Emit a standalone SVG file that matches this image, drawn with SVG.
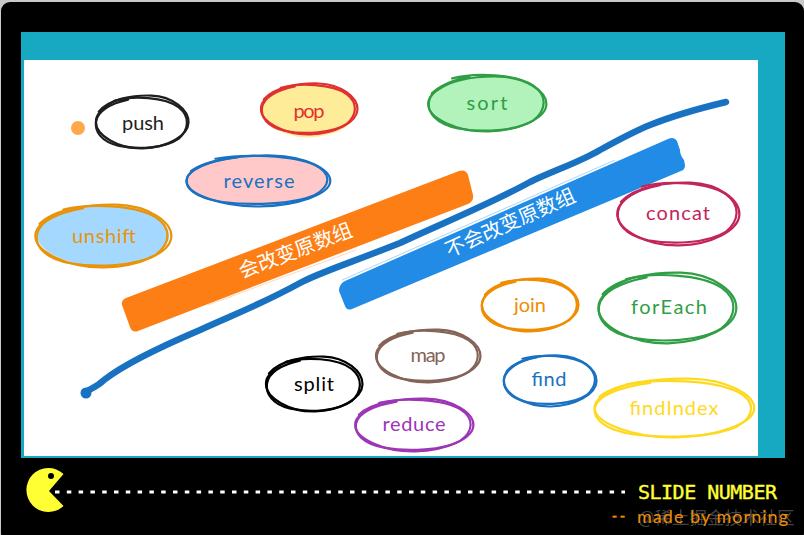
<svg xmlns="http://www.w3.org/2000/svg" width="804" height="535" viewBox="0 0 804 535">
<style>
.ln{fill:none;stroke-width:2.2;stroke-linecap:round;vector-effect:non-scaling-stroke}
.lb{font-family:"Lato","Noto Sans",sans-serif;font-size:20px;text-anchor:middle;stroke:none}
.cjk{font-family:"Noto Sans CJK SC",sans-serif;font-size:20px;fill:#fff;text-anchor:middle}
.hair{fill:none;stroke-width:1}
</style>
<defs>
<path id="a" class="ln" d="M-.92 -.38C-.7 -.85 -.2 -1 .2 -.98C.65 -.95 1 -.45 .99 .02C.98 .5 .55 .95 .02 .98C-.5 1 -.98 .5 -.98 0C-.99 -.3 -.8 -.6 -.55 -.8"/>
<path id="b" class="ln" d="M-.6 -.85C-.2 -1.06 .5 -1 .8 -.6C1.05 -.25 1.02 .25 .8 .6C.5 .98 -.1 1.02 -.5 .88C-.9 .72 -1.03 .3 -1 -.05C-.97 -.45 -.7 -.75 -.3 -.9"/>
<path id="f" d="M-.92 -.38C-.7 -.85 -.2 -1 .2 -.98C.65 -.95 1 -.45 .99 .02C.98 .5 .55 .95 .02 .98C-.5 1 -.98 .5 -.98 0C-.99 -.2 -.97 -.3 -.92 -.38Z"/>
</defs>
<rect width="804" height="535" fill="#c9c9c9"/>
<rect x="1" y="2" width="803" height="540" rx="9" fill="#000"/>
<rect x="21" y="32" width="764" height="426" fill="#17a9c1"/>
<rect x="24" y="60" width="734" height="396" fill="#fff"/>
<circle id="dot" cx="78" cy="128" r="7" fill="#ffa94d"/>

<g id="connectors">
<path d="M85 392C92 388 97 387 104 380C122 366 160 347 200 330C235 314 262 304 300 283C318 273 350 263 400 243C445 222 490 204 530 182C555 170 580 162 600 150C620 139 635 131 650 125C680 113 705 107 726 102" fill="none" stroke="#1971c2" stroke-width="6.500" stroke-linecap="round" stroke-linejoin="round"/>
<circle cx="86" cy="393" r="5.500" fill="#1971c2"/>
</g>

<g id="bar-mutating">
<path d="M126 298L459 171Q466 169 468 175L473 195Q474 201 468 204L138 331Q132 333 130 327L122 305Q121 300 126 298Z" fill="#fd7e14"/>
<path d="M208 305L356 250" class="hair" stroke="#ffd8b8"/>
<text class="cjk" transform="translate(298 257) rotate(-21)">会改变原数组</text>
</g>
<g id="bar-nonmutating">
<path d="M345 281L668 139Q674 136 677 141L680 150Q680 155 684 160L685 165Q685 170 681 171L352 309Q347 311 345 306L339 291Q339 284 345 281Z" fill="#228be6"/>
<path d="M342 280L615 160" class="hair" stroke="#a5d8ff"/>
<text class="cjk" transform="translate(513 229) rotate(-24)">不会改变原数组</text>
</g>

<g id="node-push" stroke="#1e1e1e"><use href="#a" transform="translate(142 122) scale(47 27)"/><use href="#b" transform="translate(142 123) scale(46 26)"/><text class="lb" x="143" y="130" fill="#1e1e1e" textLength="42" lengthAdjust="spacing">push</text></g>
<g id="node-pop" stroke="#e03131"><use href="#f" fill="#ffec99" stroke="none" transform="translate(309 111) scale(48 27)"/><use href="#a" transform="translate(309 109) scale(49 26)"/><use href="#b" transform="translate(309 109) scale(47 25)"/><text class="lb" x="309" y="118" fill="#e03131" textLength="31" lengthAdjust="spacing">pop</text></g>
<g id="node-sort" stroke="#2f9e44"><use href="#f" fill="#b2f2bb" stroke="none" transform="translate(487 103) scale(59 28)"/><use href="#a" transform="translate(487 104) scale(60 28)"/><use href="#b" transform="translate(487 103) scale(58 29)"/><text class="lb" x="487" y="110" fill="#2f9e44" textLength="41" lengthAdjust="spacing">sort</text></g>
<g id="node-reverse" stroke="#1971c2"><use href="#f" fill="#ffc9c9" stroke="none" transform="translate(258 181) scale(72 26)"/><use href="#a" transform="translate(258 181) scale(73 26)"/><use href="#b" transform="translate(258 180) scale(71 25)"/><text class="lb" x="259" y="188" fill="#1971c2" textLength="71" lengthAdjust="spacing">reverse</text></g>
<g id="node-unshift" stroke="#e8940a"><use href="#f" fill="#a5d8ff" stroke="none" transform="translate(103 236) scale(67 31)"/><use href="#a" transform="translate(103 236) scale(69 32)"/><use href="#b" transform="translate(103 236) scale(66 31)"/><text class="lb" x="104" y="243" fill="#e8940a" textLength="64" lengthAdjust="spacing">unshift</text></g>
<g id="node-concat" stroke="#c2255c"><use href="#a" transform="translate(678 214) scale(62 32)"/><use href="#b" transform="translate(678 213) scale(60 31)"/><text class="lb" x="678" y="220" fill="#c2255c" textLength="64" lengthAdjust="spacing">concat</text></g>
<g id="node-join" stroke="#f08c00"><use href="#a" transform="translate(530 305) scale(49 27)"/><use href="#b" transform="translate(530 305) scale(48 26)"/><text class="lb" x="530" y="312" fill="#f08c00" textLength="32" lengthAdjust="spacing">join</text></g>
<g id="node-forEach" stroke="#2f9e44"><use href="#a" transform="translate(667 308) scale(70 36)"/><use href="#b" transform="translate(667 308) scale(68 34)"/><text class="lb" x="669" y="314" fill="#2f9e44" textLength="76" lengthAdjust="spacing">forEach</text></g>
<g id="node-map" stroke="#846358"><use href="#a" transform="translate(428 356) scale(53 27)"/><use href="#b" transform="translate(428 356) scale(51 26)"/><text class="lb" x="428" y="362" fill="#846358" textLength="35" lengthAdjust="spacing">map</text></g>
<g id="node-find" stroke="#1971c2"><use href="#a" transform="translate(550 381) scale(47 26)"/><use href="#b" transform="translate(550 380) scale(46 25)"/><text class="lb" x="549" y="386" fill="#1971c2" textLength="35" lengthAdjust="spacing">find</text></g>
<g id="node-split" stroke="#000"><use href="#a" transform="translate(314 384) scale(49 28)"/><use href="#b" transform="translate(314 385) scale(47 27)"/><text class="lb" x="314" y="391" fill="#000" textLength="40" lengthAdjust="spacing">split</text></g>
<g id="node-reduce" stroke="#9c36b5"><use href="#a" transform="translate(414 425) scale(60 27)"/><use href="#b" transform="translate(414 425) scale(58 26)"/><text class="lb" x="414" y="431" fill="#9c36b5" textLength="63" lengthAdjust="spacing">reduce</text></g>
<g id="node-findIndex" stroke="#ffd91f"><use href="#a" transform="translate(674 408) scale(81 30)"/><use href="#b" transform="translate(674 409) scale(79 29)"/><text class="lb" x="674" y="415" fill="#ffd91f" textLength="89" lengthAdjust="spacing">findIndex</text></g>

<g id="footer">
<path d="M63.500 474A22 22 0 1 0 63.500 506L49 491Z" fill="#ffff33"/>
<circle cx="51" cy="476" r="3" fill="#000"/>
<line x1="55" y1="492" x2="625" y2="492" stroke="#fff" stroke-width="3" stroke-dasharray="4.500 7.300"/>
<text x="638" y="499" font-family="'DejaVu Sans Mono','Liberation Mono',monospace" font-size="20" fill="#ffff33" stroke="#ffff33" stroke-width=".4" textLength="139" lengthAdjust="spacing">SLIDE NUMBER</text>
<text x="638" y="524" font-family="'Noto Sans CJK SC',sans-serif" font-size="17.500" fill="#9a9a9a" fill-opacity=".45">@稀土掘金技术社区</text>
<text x="610" y="521" font-family="'DejaVu Sans Mono','Liberation Mono',monospace" font-size="15" fill="#f08c00" stroke="#f08c00" stroke-width=".3" textLength="17" lengthAdjust="spacing">--</text>
<text x="637" y="523" font-family="Lato,'Noto Sans',sans-serif" font-size="18" fill="#f08c00" textLength="151" lengthAdjust="spacing">made by morning</text>
</g>
</svg>
